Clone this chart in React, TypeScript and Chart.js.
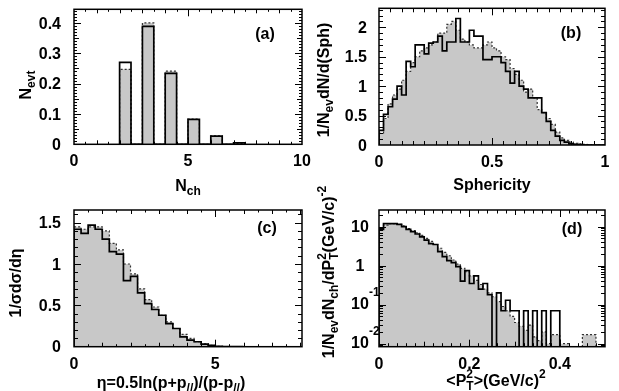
import React, { useEffect, useRef } from 'react';
import { Chart, registerables } from 'chart.js';
Chart.register(...registerables);

const FONT = '"Liberation Sans", Arial, Helvetica, sans-serif';
const GRAY = '#c8c8c8';

// ---------- (a) charged multiplicity ----------
const A_NCH = [2, 3, 4, 5, 6, 7];
const A_DATA = [0.27, 0.389, 0.234, 0.082, 0.027, 0.005];
const A_MC = [0.247, 0.4, 0.241, 0.083, 0.028, 0.003];
const A_BAR_WIDTH = 0.5;
const A_X_TICKS = [0, 5, 10];
const A_X_LABELS = ['0', '5', '10'];
const A_Y_TICKS = [0, 0.1, 0.2, 0.3, 0.4];
const A_Y_LABELS = ['0', '0.1', '0.2', '0.3', '0.4'];

// ---------- (b) sphericity ----------
const B_START = 0;
const B_BIN = 0.02;
const B_DATA = [
  0.25, 0.52, 0.65, 0.78, 1.0, 0.85, 1.42, 1.33, 1.7, 1.7,
  1.55, 1.73, 1.75, 1.85, 1.6, 1.75, 1.75, 2.15, 1.75, 1.75,
  1.95, 1.85, 1.85, 1.45, 1.45, 1.5, 1.5, 1.4, 1.25, 1.05,
  1.25, 1.0, 0.95, 0.8, 0.8, 0.8, 0.55, 0.4, 0.25, 0.15,
  0.08, 0.05, 0.02, 0.01, 0.005, 0, 0, 0, 0, 0,
];
const B_MC = [
  0.2, 0.45, 0.7, 0.85, 0.95, 1.1, 1.25, 1.4, 1.5, 1.6,
  1.65, 1.7, 1.75, 1.9, 1.9, 2.05, 2.1, 1.95, 1.8, 1.75,
  1.7, 1.65, 1.65, 1.7, 1.75, 1.65, 1.6, 1.5, 1.45, 1.3,
  1.2, 1.1, 0.9, 0.95, 0.8, 0.6, 0.55, 0.45, 0.35, 0.22,
  0.12, 0.08, 0.05, 0.03, 0.02, 0.01, 0.005, 0, 0, 0,
];
const B_X_TICKS = [0, 0.5, 1];
const B_X_LABELS = ['0', '0.5', '1'];
const B_Y_TICKS = [0, 0.5, 1, 1.5, 2];
const B_Y_LABELS = ['0', '0.5', '1', '1.5', '2'];

// ---------- (c) rapidity ----------
const C_START = 0;
const C_BIN = 0.25;
const C_DATA = [
  1.42, 1.37, 1.47, 1.42, 1.3, 1.15, 1.12, 0.8, 0.85, 0.65,
  0.52, 0.45, 0.38, 0.28, 0.22, 0.12, 0.08, 0.06, 0.03, 0.015,
  0.005, 0, 0, 0,
];
const C_MC = [
  1.45, 1.42, 1.45, 1.45, 1.4, 1.25, 1.17, 1.0, 0.88, 0.7,
  0.57, 0.48, 0.38, 0.3, 0.22, 0.15, 0.1, 0.06, 0.035, 0.015,
  0.005, 0, 0, 0,
];
const C_X_TICKS = [0, 5];
const C_X_LABELS = ['0', '5'];
const C_Y_TICKS = [0, 0.5, 1, 1.5];
const C_Y_LABELS = ['0', '0.5', '1', '1.5'];

// ---------- (d) <PT^2> ----------
const D_START = 0;
const D_BIN = 0.01;
const D_DATA = [
  8.5, 12, 12, 12, 11.5, 10, 8.5, 7.5, 6.5, 5.5,
  4.5, 3.7, 3.5, 2.3, 1.7, 1.35, 1.2, 0.95, 0.4, 0.75,
  0.35, 0.55, 0.25, 0.35, 0.18, 0, 0.2, 0.07, 0.13, 0.07,
  0.07, 0, 0.07, 0, 0.07, 0, 0.07, 0, 0.07, 0.07,
  0, 0, 0, 0, 0, 0, 0, 0, 0, 0,
];
const D_MC = [
  9, 11, 12, 12, 11.5, 10.5, 9, 8, 7, 6,
  5, 4.2, 3.5, 2.8, 2.2, 1.8, 1.4, 1.1, 0.85, 0.7,
  0.55, 0.42, 0.33, 0.25, 0.2, 0.16, 0.12, 0.09, 0.07, 0.05,
  0.035, 0.028, 0.022, 0.03, 0.015, 0.012, 0.02, 0.01, 0.017, 0.017,
  0.01, 0.01, 0, 0, 0, 0.017, 0.017, 0.017, 0, 0,
];
const D_X_TICKS = [0, 0.2, 0.4];
const D_X_LABELS = ['0', '0.2', '0.4'];
const D_Y_TICKS = [10, 1, 0.1, 0.01];
const D_Y_LABELS = ['10', '1', '10^-1', '10^-2'];

type Seg = { t: string; k?: 'sub' | 'sup' | 'ss'; t2?: string };
type Pt = { x: number; y: number };
type TickMark = { v: number; len: number };

function histPoints(start: number, bin: number, vals: number[], floor: number): Pt[] {
  const pts: Pt[] = [];
  const f = (v: number) => (v > 0 ? v : floor);
  pts.push({ x: start, y: floor });
  vals.forEach((v, i) => {
    const lo = start + i * bin;
    const hi = lo + bin;
    pts.push({ x: lo, y: f(v) });
    pts.push({ x: hi, y: f(v) });
  });
  pts.push({ x: start + vals.length * bin, y: floor });
  return pts;
}

function barPoints(centers: number[], vals: number[], width: number): Pt[] {
  const pts: Pt[] = [];
  centers.forEach((n, i) => {
    pts.push({ x: n, y: 0 });
    pts.push({ x: n, y: vals[i] });
    pts.push({ x: n + width, y: vals[i] });
    pts.push({ x: n + width, y: 0 });
  });
  return pts;
}

function linMarks(min: number, max: number, step: number, len: number): TickMark[] {
  const out: TickMark[] = [];
  const n = Math.round((max - min) / step);
  for (let i = 1; i < n + 1; i++) {
    const v = +(min + i * step).toFixed(6);
    if (v < max) out.push({ v, len });
  }
  return out;
}

function logMarks(minExp: number, maxExp: number, len: number, majLen: number): TickMark[] {
  const out: TickMark[] = [];
  for (let e = minExp; e <= maxExp; e++) {
    for (let m = 1; m <= 9; m++) out.push({ v: m * Math.pow(10, e), len: m === 1 ? majLen : len });
  }
  return out;
}

function parseSegs(s: string): Seg[] {
  const out: Seg[] = [];
  const re = /(_\{[^}]*\}|\^\{[^}]*\}|~\{[^}]*\})/g;
  let last = 0;
  let m: RegExpExecArray | null;
  while ((m = re.exec(s))) {
    if (m.index > last) out.push({ t: s.slice(last, m.index) });
    const body = m[0].slice(2, -1);
    if (m[0][0] === '_') out.push({ t: body, k: 'sub' });
    else if (m[0][0] === '^') out.push({ t: body, k: 'sup' });
    else {
      const [a, b] = body.split('|');
      out.push({ t: a, k: 'ss', t2: b });
    }
    last = m.index + m[0].length;
  }
  if (last < s.length) out.push({ t: s.slice(last) });
  return out;
}

function drawRich(ctx: CanvasRenderingContext2D, text: string, x: number, y: number, rot: number, size: number, align: 'center' | 'right' | 'left' = 'center') {
  const segs = parseSegs(text);
  const main = `bold ${size}px ${FONT}`;
  const small = `bold ${Math.round(size * 0.72)}px ${FONT}`;
  ctx.save();
  ctx.translate(x, y);
  ctx.rotate(rot);
  const widths = segs.map((s) => {
    if (!s.k) {
      ctx.font = main;
      return ctx.measureText(s.t).width;
    }
    ctx.font = small;
    if (s.k === 'ss') return Math.max(ctx.measureText(s.t).width, ctx.measureText(s.t2 || '').width);
    return ctx.measureText(s.t).width;
  });
  const total = widths.reduce((a, b) => a + b, 0);
  let cx = align === 'center' ? -total / 2 : align === 'right' ? -total : 0;
  const base = (size * 0.716) / 2;
  ctx.textAlign = 'left';
  ctx.textBaseline = 'alphabetic';
  ctx.fillStyle = '#000';
  segs.forEach((s, i) => {
    if (!s.k) {
      ctx.font = main;
      ctx.fillText(s.t, cx, base);
    } else {
      ctx.font = small;
      if (s.k === 'sub') ctx.fillText(s.t, cx, base + size * 0.28);
      else if (s.k === 'sup') ctx.fillText(s.t, cx, base - size * 0.48);
      else {
        ctx.fillText(s.t, cx, base + size * 0.28);
        ctx.fillText(s.t2 || '', cx, base - size * 0.48);
      }
    }
    cx += widths[i];
  });
  ctx.restore();
}

type PanelSpec = {
  area: { l: number; t: number; r: number; b: number };
  xMin: number; xMax: number; yMin: number; yMax: number; yLog?: boolean;
  data: Pt[]; mc: Pt[];
  xTicks: number[]; xLabels: string[]; yTicks: number[]; yLabels: string[];
  xMarks: TickMark[]; yMarks: TickMark[];
  xLabelBase: number; yLabelX: number; yLabelAlign: 'right' | 'center';
  xTitle: string; xTitlePos: [number, number];
  yTitle: string; yTitlePos: [number, number];
  tag: string; tagPos: [number, number];
};

const W = 619;
const H = 391;
const LOG_FLOOR = 1e-4;

function makeChart(canvas: HTMLCanvasElement, sp: PanelSpec) {
  const decor = {
    id: 'decor',
    afterDraw(chart: any) {
      const ctx: CanvasRenderingContext2D = chart.ctx;
      const { left, right, top, bottom } = chart.chartArea;
      const xs = chart.scales.x;
      const ys = chart.scales.y;
      ctx.save();
      ctx.strokeStyle = '#000';
      ctx.lineWidth = 1;
      ctx.beginPath();
      const majX = sp.xTicks.map((v) => ({ v, len: 7 }));
      const majY = sp.yTicks.map((v) => ({ v, len: 7 }));
      [...sp.xMarks, ...majX].forEach((t) => {
        const p = Math.round(xs.getPixelForValue(t.v)) + 0.5;
        if (p <= left + 1 || p >= right - 1) return;
        ctx.moveTo(p, bottom); ctx.lineTo(p, bottom - t.len);
        ctx.moveTo(p, top); ctx.lineTo(p, top + t.len);
      });
      [...sp.yMarks, ...majY].forEach((t) => {
        const p = Math.round(ys.getPixelForValue(t.v)) + 0.5;
        if (p <= top + 1 || p >= bottom - 1) return;
        ctx.moveTo(left, p); ctx.lineTo(left + t.len, p);
        ctx.moveTo(right, p); ctx.lineTo(right - t.len, p);
      });
      ctx.stroke();
      ctx.lineWidth = 1.5;
      ctx.strokeRect(left, top, right - left, bottom - top);
      sp.xTicks.forEach((v, i) => {
        drawRich(ctx, sp.xLabels[i], xs.getPixelForValue(v), sp.xLabelBase, 0, 16);
      });
      sp.yTicks.forEach((v, i) => {
        const lab = sp.yLabels[i];
        const py = ys.getPixelForValue(v);
        if (lab.includes('^')) {
          const [b, e] = lab.split('^');
          drawRich(ctx, b, sp.yLabelX, py - 1, 0, 16, 'center');
          drawRich(ctx, e, sp.yLabelX + 9, py - 13, 0, 12, 'left');
        } else {
          drawRich(ctx, lab, sp.yLabelX, py, 0, 16, sp.yLabelAlign);
        }
      });
      drawRich(ctx, sp.xTitle, sp.xTitlePos[0], sp.xTitlePos[1], 0, 16);
      drawRich(ctx, sp.yTitle, sp.yTitlePos[0], sp.yTitlePos[1], -Math.PI / 2, 16);
      drawRich(ctx, sp.tag, sp.tagPos[0], sp.tagPos[1], 0, 16);
      ctx.restore();
    },
  };
  return new Chart(canvas, {
    type: 'line',
    data: {
      datasets: [
        {
          data: sp.data,
          borderColor: '#000',
          borderWidth: 1.7,
          fill: false,
          pointRadius: 0,
          tension: 0,
          stepped: true,
          order: 0,
        } as any,
        {
          data: sp.mc,
          borderColor: '#333',
          borderWidth: 1.2,
          borderDash: [2, 2],
          backgroundColor: GRAY,
          fill: sp.yLog ? 'start' : 'origin',
          pointRadius: 0,
          tension: 0,
          stepped: true,
          order: 1,
        } as any,
      ],
    },
    options: {
      responsive: false,
      animation: false,
      devicePixelRatio: 1,
      events: [],
      layout: { padding: { left: sp.area.l, top: sp.area.t, right: W - sp.area.r, bottom: H - sp.area.b } },
      plugins: { legend: { display: false }, tooltip: { enabled: false } },
      scales: {
        x: { type: 'linear', min: sp.xMin, max: sp.xMax, display: false },
        y: { type: sp.yLog ? 'logarithmic' : 'linear', min: sp.yMin, max: sp.yMax, display: false },
      },
    } as any,
    plugins: [decor],
  });
}

const SPECS: PanelSpec[] = [
  {
    area: { l: 74, t: 9.3, r: 302, b: 144.3 },
    xMin: 0, xMax: 10, yMin: 0, yMax: 0.445,
    data: barPoints(A_NCH, A_DATA, A_BAR_WIDTH),
    mc: barPoints(A_NCH, A_MC, A_BAR_WIDTH),
    xTicks: A_X_TICKS, xLabels: A_X_LABELS, yTicks: A_Y_TICKS, yLabels: A_Y_LABELS,
    xMarks: [...linMarks(0, 10, 0.5, 2.5), ...linMarks(0, 10, 1, 4)],
    yMarks: [...linMarks(0, 0.445, 0.01, 3), ...linMarks(0, 0.445, 0.05, 5)],
    xLabelBase: 160.5, yLabelX: 61, yLabelAlign: 'right',
    xTitle: 'N_{ch}', xTitlePos: [188, 185],
    yTitle: 'N_{evt}', yTitlePos: [25, 85],
    tag: '(a)', tagPos: [265, 33],
  },
  {
    area: { l: 379, t: 8.3, r: 605, b: 145 },
    xMin: 0, xMax: 1, yMin: 0, yMax: 2.323,
    data: histPoints(B_START, B_BIN, B_DATA, 0),
    mc: histPoints(B_START, B_BIN, B_MC, 0),
    xTicks: B_X_TICKS, xLabels: B_X_LABELS, yTicks: B_Y_TICKS, yLabels: B_Y_LABELS,
    xMarks: linMarks(0, 1, 0.05, 4),
    yMarks: linMarks(0, 2.323, 0.1, 4),
    xLabelBase: 161, yLabelX: 367, yLabelAlign: 'right',
    xTitle: 'Sphericity', xTitlePos: [492, 184],
    yTitle: '1/N_{ev}dN/d(Sph)', yTitlePos: [323, 80],
    tag: '(b)', tagPos: [571, 32],
  },
  {
    area: { l: 74, t: 210, r: 302, b: 346.7 },
    xMin: 0, xMax: 8.07, yMin: 0, yMax: 1.653,
    data: histPoints(C_START, C_BIN, C_DATA, 0),
    mc: histPoints(C_START, C_BIN, C_MC, 0),
    xTicks: C_X_TICKS, xLabels: C_X_LABELS, yTicks: C_Y_TICKS, yLabels: C_Y_LABELS,
    xMarks: [...linMarks(0, 8.07, 0.5, 2.5), ...linMarks(0, 8.07, 1, 4)],
    yMarks: linMarks(0, 1.653, 0.1, 4),
    xLabelBase: 363, yLabelX: 61, yLabelAlign: 'right',
    xTitle: 'η=0.5ln(p+p_{//})/(p-p_{//})', xTitlePos: [171, 382],
    yTitle: '1/σdσ/dη', yTitlePos: [15, 283],
    tag: '(c)', tagPos: [267, 227],
  },
  {
    area: { l: 379, t: 210, r: 605, b: 346.7 },
    xMin: 0, xMax: 0.5, yMin: 0.00838, yMax: 26.8, yLog: true,
    data: histPoints(D_START, D_BIN, D_DATA, LOG_FLOOR),
    mc: histPoints(D_START, D_BIN, D_MC, LOG_FLOOR),
    xTicks: D_X_TICKS, xLabels: D_X_LABELS, yTicks: D_Y_TICKS, yLabels: D_Y_LABELS,
    xMarks: [...linMarks(0, 0.5, 0.02, 3.5), ...linMarks(0, 0.5, 0.1, 5)],
    yMarks: logMarks(-3, 1, 4, 7),
    xLabelBase: 363, yLabelX: 360, yLabelAlign: 'center',
    xTitle: '<P~{T|2}>(GeV/c)^{2}', xTitlePos: [496, 380],
    yTitle: '1/N_{ev}dN_{ch}/dP~{T|2}(GeV/c)^{-2}', yTitlePos: [328, 272],
    tag: '(d)', tagPos: [572, 228],
  },
];

function Panel({ spec }: { spec: PanelSpec }) {
  const ref = useRef<HTMLCanvasElement | null>(null);
  useEffect(() => {
    if (!ref.current) return;
    const ch = makeChart(ref.current, spec);
    return () => ch.destroy();
  }, [spec]);
  return (
    <canvas
      ref={ref}
      width={W}
      height={H}
      style={{ position: 'absolute', left: 0, top: 0, width: W, height: H }}
    />
  );
}

export default function App() {
  return (
    <div style={{ position: 'absolute', left: 0, top: 0, width: W, height: H, background: '#fff', overflow: 'hidden' }}>
      {SPECS.map((s, i) => (
        <Panel key={i} spec={s} />
      ))}
    </div>
  );
}
